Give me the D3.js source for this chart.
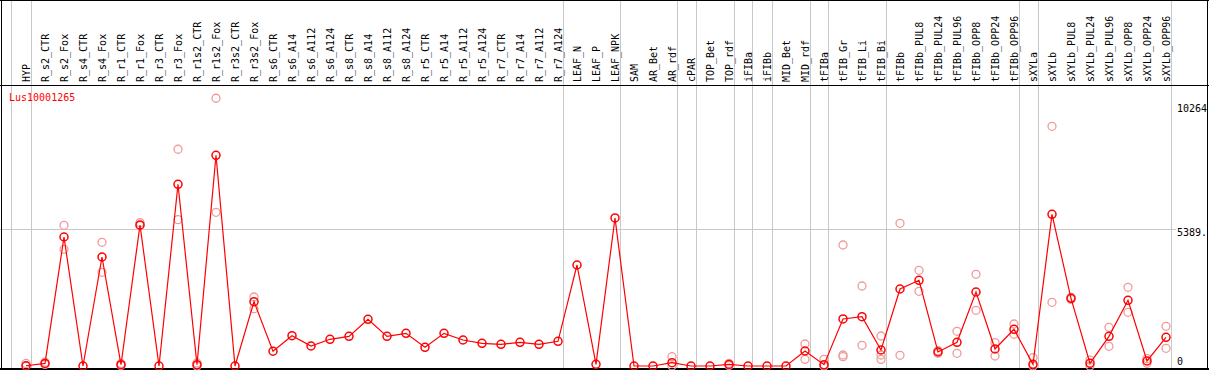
<!DOCTYPE html>
<html>
<head>
<meta charset="utf-8">
<script src="https://cdn.jsdelivr.net/npm/d3@7"></script>
<style>
  body { margin: 0; background: #fff; }
  svg { display: block; }
  text { font-family: "DejaVu Sans Mono", monospace; font-size: 10px; }
</style>
</head>
<body>
<div id="chart"></div>
<script>
const geneId = 'Lus10001265';

const categories = [
  'HYP', 'R_s2_CTR', 'R_s2_Fox', 'R_s4_CTR', 'R_s4_Fox', 'R_r1_CTR', 'R_r1_Fox', 'R_r3_CTR', 'R_r3_Fox',
  'R_r1s2_CTR', 'R_r1s2_Fox', 'R_r3s2_CTR', 'R_r3s2_Fox', 'R_s6_CTR', 'R_s6_A14', 'R_s6_A112', 'R_s6_A124',
  'R_s8_CTR', 'R_s8_A14', 'R_s8_A112', 'R_s8_A124', 'R_r5_CTR', 'R_r5_A14', 'R_r5_A112', 'R_r5_A124',
  'R_r7_CTR', 'R_r7_A14', 'R_r7_A112', 'R_r7_A124', 'LEAF_N', 'LEAF_P', 'LEAF_NPK', 'SAM', 'AR_Bet', 'AR_rdf',
  'cPAR', 'TOP_Bet', 'TOP_rdf', 'iFIBa', 'iFIBb', 'MID_Bet', 'MID_rdf', 'tFIBa', 'tFIB_Gr', 'tFIB_Li', 'tFIB_Bi',
  'tFIBb', 'tFIBb_PUL8', 'tFIBb_PUL24', 'tFIBb_PUL96', 'tFIBb_OPP8', 'tFIBb_OPP24', 'tFIBb_OPP96',
  'sXYLa', 'sXYLb', 'sXYLb_PUL8', 'sXYLb_PUL24', 'sXYLb_PUL96', 'sXYLb_OPP8', 'sXYLb_OPP24', 'sXYLb_OPP96'
];

const means = [
  10, 100, 5073, 0, 4287, 50, 5546, 0, 7146,
  50, 8286, 0, 2530, 580, 1192, 787, 1050,
  1167, 1836, 1167, 1285, 734, 1285, 1023, 892,
  852, 931, 852, 970, 3972, 66, 5821, 0, 0, 131,
  0, 0, 60, 0, 0, 0, 590, 52, 1849, 1940, 629,
  3028, 3370, 551, 931, 2910, 668, 1442,
  66, 5965, 2661, 105, 1167, 2583, 197, 1128
];

const replicates = [
  [100, 0], [60, 150], [5533, 4590], [], [4865, 3685], [100, 20], [5637, 5519], [], [8523, 5755],
  [120, 0], [10529, 6045], [], [2714, 2255], [], [], [], [],
  [], [], [], [], [], [], [], [],
  [], [], [], [], [], [], [], [], [], [367, 0],
  [], [], [100, 20], [], [], [], [865, 262], [262, 0], [4759, 433, 367], [3146, 813], [1180, 262, 433],
  [5612, 420], [3763, 2937], [600, 500], [1364, 498], [3606, 2190], [918, 393], [1652, 1246],
  [328, 0], [9427, 2504], [2700, 2620], [230, 0], [1521, 774], [3094, 2111], [289, 105], [1560, 695]
];

// group separators drawn after these category indexes
const groupEnds = [-1, 0, 28, 31, 34, 35, 37, 38, 39, 41, 42, 45, 52, 53, 60];

const yTicks = [10264, 5389, 0];
const yTickLabels = ['10264', '5389.', '0'];

const width = 1209;
const height = 370;
const labelBottom = 82;
const headerY = 85.5;

const svg = d3.select('#chart')
  .append('svg')
  .attr('width', width)
  .attr('height', height);

const x = d3.scaleLinear()
  .domain([0, categories.length - 1])
  .range([26, 1166]);

const y = d3.scaleLinear()
  .domain([0, 10264])
  .range([366, 105]);

// grid
svg.append('g')
  .selectAll('line')
  .data(groupEnds)
  .join('line')
  .attr('x1', d => Math.round(x(d) + 4.5) + 0.5)
  .attr('x2', d => Math.round(x(d) + 4.5) + 0.5)
  .attr('y1', 0)
  .attr('y2', height)
  .attr('stroke', '#c8c8c8')
  .attr('stroke-width', 1);

svg.append('line')
  .attr('x1', 0)
  .attr('x2', 1176)
  .attr('y1', Math.round(y(5389)) + 0.5)
  .attr('y2', Math.round(y(5389)) + 0.5)
  .attr('stroke', '#c8c8c8');

// frame
svg.append('line').attr('x1', 1.5).attr('x2', 1.5).attr('y1', 0).attr('y2', height).attr('stroke', '#000');
svg.append('line').attr('x1', 0).attr('x2', width).attr('y1', 0.5).attr('y2', 0.5).attr('stroke', '#000');
svg.append('line').attr('x1', 0).attr('x2', width).attr('y1', headerY).attr('y2', headerY).attr('stroke', '#000');
svg.append('line').attr('x1', 0).attr('x2', width).attr('y1', 369).attr('y2', 369).attr('stroke', '#000').attr('stroke-width', 2);
svg.append('line').attr('x1', 1207.5).attr('x2', 1207.5).attr('y1', 0).attr('y2', height).attr('stroke', '#000');

// rotated category labels
svg.append('g')
  .selectAll('text')
  .data(categories)
  .join('text')
  .attr('transform', (d, i) => `translate(${x(i) + 4},${labelBottom}) rotate(-90)`)
  .attr('fill', '#000')
  .text(d => d);

// y labels on the right
svg.append('g')
  .selectAll('text')
  .data(yTicks)
  .join('text')
  .attr('x', 1177)
  .attr('y', (d, i) => d === 0 ? 365 : y(d) + 7)
  .attr('fill', '#000')
  .text((d, i) => yTickLabels[i]);

svg.append('text')
  .attr('x', 9)
  .attr('y', 101)
  .attr('fill', '#ff0000')
  .text(geneId);

// replicate points
const reps = [];
replicates.forEach((r, i) => r.forEach(v => reps.push({ i, v })));
svg.append('g')
  .selectAll('circle')
  .data(reps)
  .join('circle')
  .attr('cx', d => x(d.i))
  .attr('cy', d => y(d.v))
  .attr('r', 4)
  .attr('fill', 'none')
  .attr('stroke', '#f09a9a')
  .attr('stroke-width', 1.3);

// mean line
const line = d3.line()
  .x((d, i) => x(i))
  .y(d => y(d));

svg.append('path')
  .datum(means)
  .attr('d', line)
  .attr('fill', 'none')
  .attr('stroke', '#ff0000')
  .attr('stroke-width', 1.2);

svg.append('g')
  .selectAll('circle')
  .data(means)
  .join('circle')
  .attr('cx', (d, i) => x(i))
  .attr('cy', d => y(d))
  .attr('r', 4)
  .attr('fill', 'none')
  .attr('stroke', '#ff0000')
  .attr('stroke-width', 1.5);
</script>
</body>
</html>
